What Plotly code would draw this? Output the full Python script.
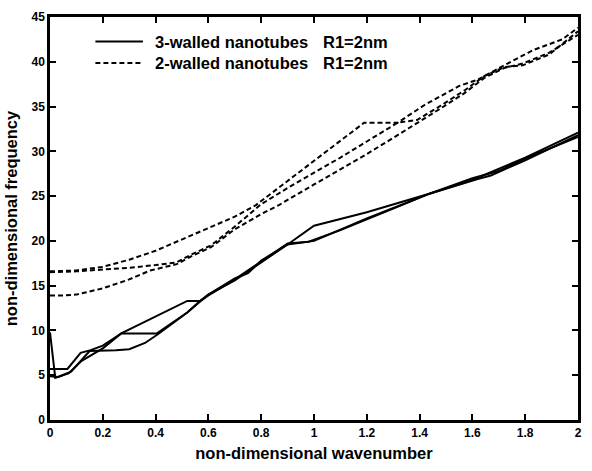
import plotly.graph_objects as go

# Dispersion curves: non-dimensional frequency vs. non-dimensional wavenumber
# 3-walled nanotubes (solid), three branches
s1_x = [0, 0.02, 0.07, 0.12, 0.2, 0.27, 0.52, 0.57, 0.6, 0.7, 0.75, 0.8, 0.9, 1.0, 1.2, 1.44, 1.6, 1.8, 2.0]
s1_y = [9.8, 4.7, 5.2, 6.6, 8.0, 9.67, 13.3, 13.3, 14.0, 15.8, 16.4, 17.8, 19.6, 21.7, 23.2, 25.3, 26.8, 29.3, 32.1]

s2_x = [0, 0.066, 0.116, 0.154, 0.2, 0.27, 0.405, 0.52, 0.57, 0.6, 0.7, 0.8, 0.9, 1.0, 1.2, 1.44, 1.6, 1.7, 1.8, 2.0]
s2_y = [5.7, 5.7, 7.5, 7.8, 8.3, 9.67, 9.67, 12.0, 13.3, 14.0, 15.6, 17.6, 19.6, 20.0, 22.5, 25.3, 27.0, 27.8, 29.2, 31.6]

s3_x = [0, 0.03, 0.08, 0.15, 0.25, 0.3, 0.36, 0.41, 0.52, 0.57, 0.6, 0.7, 0.8, 0.9, 0.98, 1.1, 1.3, 1.44, 1.62, 1.67, 1.8, 2.0]
s3_y = [4.9, 4.8, 5.4, 7.7, 7.8, 7.9, 8.6, 9.6, 12.0, 13.3, 13.9, 15.7, 17.7, 19.7, 19.9, 21.2, 23.6, 25.3, 26.9, 27.3, 29.0, 31.8]

# 2-walled nanotubes (dashed), three branches
d1_x = [0, 0.1, 0.2, 0.3, 0.4, 0.52, 0.6, 0.7, 0.78, 0.9, 1.0, 1.1, 1.19, 1.317, 1.42, 1.55, 1.62, 1.72, 1.83, 1.94, 2.0]
d1_y = [16.6, 16.7, 17.1, 17.9, 18.9, 20.4, 21.4, 22.7, 24.0, 26.7, 28.9, 31.2, 33.2, 33.2, 35.2, 37.3, 38.0, 39.6, 41.3, 42.5, 43.8]

d2_x = [0, 0.1, 0.2, 0.3, 0.4, 0.48, 0.53, 0.61, 0.7, 0.8, 0.9, 1.0, 1.1, 1.2, 1.317, 1.39, 1.48, 1.57, 1.645, 1.72, 1.79, 1.89, 2.0]
d2_y = [16.5, 16.6, 16.8, 17.0, 17.3, 17.6, 18.4, 19.5, 21.6, 24.1, 25.9, 27.6, 29.3, 31.1, 33.2, 33.5, 35.1, 36.8, 38.4, 39.4, 39.6, 40.8, 43.4]

d3_x = [0, 0.05, 0.1, 0.2, 0.3, 0.38, 0.48, 0.53, 0.61, 0.7, 0.8, 0.867, 1.0, 1.1, 1.2, 1.3, 1.4, 1.48, 1.57, 1.645, 1.72, 1.79, 1.89, 2.0]
d3_y = [13.9, 13.9, 14.0, 14.7, 15.7, 16.7, 17.4, 18.2, 19.3, 21.3, 23.0, 24.0, 26.3, 28.0, 29.7, 31.5, 33.3, 34.8, 36.5, 38.2, 39.3, 39.8, 41.0, 43.0]

x_ticks = [0, 0.2, 0.4, 0.6, 0.8, 1, 1.2, 1.4, 1.6, 1.8, 2]
x_tick_text = ["0", "0.2", "0.4", "0.6", "0.8", "1", "1.2", "1.4", "1.6", "1.8", "2"]
y_ticks = [0, 5, 10, 15, 20, 25, 30, 35, 40, 45]

legend_labels = ["3-walled nanotubes", "2-walled nanotubes"]
legend_suffix = "R1=2nm"

FONT = "Liberation Sans, Arial, sans-serif"
DASH = "5px,3px"

fig = go.Figure()
for xs, ys in [(s1_x, s1_y), (s2_x, s2_y), (s3_x, s3_y)]:
    fig.add_trace(go.Scatter(x=xs, y=ys, mode="lines",
                             line=dict(color="black", width=2), showlegend=False))
for xs, ys in [(d1_x, d1_y), (d2_x, d2_y), (d3_x, d3_y)]:
    fig.add_trace(go.Scatter(x=xs, y=ys, mode="lines",
                             line=dict(color="black", width=2, dash=DASH), showlegend=False))

# Hand-drawn legend entries (top-left, inside the axes)
legend_rows = [(0.939, "solid", legend_labels[0]), (0.886, DASH, legend_labels[1])]
for yp, dash, label in legend_rows:
    fig.add_shape(type="line", xref="paper", yref="paper",
                  x0=0.086, x1=0.176, y0=yp, y1=yp,
                  line=dict(color="black", width=2, dash=dash))
    fig.add_annotation(xref="paper", yref="paper", x=0.195, y=yp, text=label,
                       showarrow=False, xanchor="left", yanchor="middle",
                       font=dict(family=FONT, size=16.5, color="black", weight="bold"))
    fig.add_annotation(xref="paper", yref="paper", x=0.514, y=yp, text=legend_suffix,
                       showarrow=False, xanchor="left", yanchor="middle",
                       font=dict(family=FONT, size=16.5, color="black", weight="bold"))

axis_common = dict(
    showline=True, linecolor="black", linewidth=2.5, mirror="ticks",
    ticks="inside", ticklen=6, tickwidth=2, tickcolor="black",
    showgrid=False, zeroline=False,
    tickfont=dict(family=FONT, size=12, color="black", weight="bold"),
)

fig.update_xaxes(range=[0, 2], tickvals=x_ticks, ticktext=x_tick_text,
                 title=dict(text="non-dimensional wavenumber", standoff=9,
                            font=dict(family=FONT, size=16.5, color="black", weight="bold")),
                 **axis_common)
fig.update_yaxes(range=[0, 45], tickvals=y_ticks,
                 title=dict(text="non-dimensional frequency", standoff=10,
                            font=dict(family=FONT, size=16.5, color="black", weight="bold")),
                 **axis_common)

fig.update_layout(
    width=592, height=471,
    margin=dict(l=49, r=10, t=12, b=39),
    paper_bgcolor="white", plot_bgcolor="white",
    showlegend=False,
)

fig.write_html("out.html")
